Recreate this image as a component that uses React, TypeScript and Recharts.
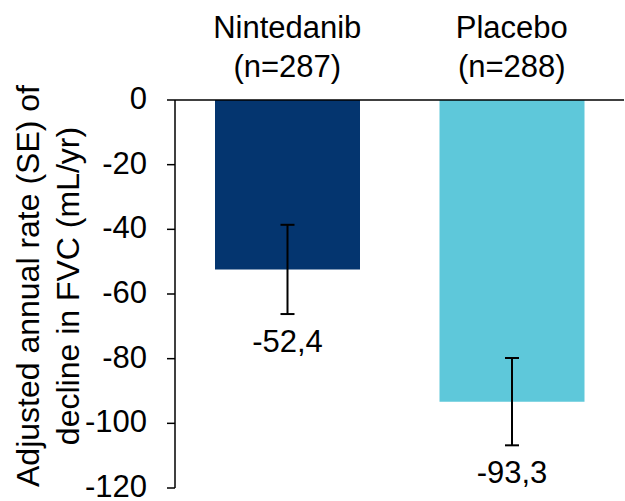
import React from 'react';
import { BarChart, Bar, XAxis, YAxis, ErrorBar, LabelList, Cell } from 'recharts';

const categories = ['Nintedanib', 'Placebo'];
const groupSizes = ['(n=287)', '(n=288)'];
const rates = [-52.4, -93.3];
const standardErrors = [13.8, 13.5];
const yTicks = [0, -20, -40, -60, -80, -100, -120];
const barColors = ['#04356F', '#5EC8DA'];

const data = categories.map((name, i) => ({
  name,
  n: groupSizes[i],
  rate: rates[i],
  se: standardErrors[i],
}));

const FONT = '"Liberation Sans", Arial, sans-serif';
const FS = 31;

const CategoryTick = (props: any) => {
  const { x, y, payload, index } = props;
  return (
    <g>
      <text x={x} y={y - 62} textAnchor="middle" fontSize={FS} fontFamily={FONT} fill="#000">
        {payload.value}
      </text>
      <text x={x} y={y - 23} textAnchor="middle" fontSize={FS} fontFamily={FONT} fill="#000">
        {groupSizes[index] ?? data.find((d) => d.name === payload.value)?.n}
      </text>
    </g>
  );
};

const YTick = (props: any) => {
  const { x, y, payload } = props;
  return (
    <text x={x} y={y + 9} textAnchor="end" fontSize={FS} fontFamily={FONT} fill="#000">
      {payload.value}
    </text>
  );
};

const ValueLabel = (props: any) => {
  const { x, y, width, height, value, index } = props;
  const bottom = Math.max(y, y + height);
  const pxPerUnit = Math.abs(height) / Math.abs(value);
  const errBottom = bottom + standardErrors[index] * pxPerUnit;
  return (
    <text
      x={x + width / 2}
      y={errBottom + 27}
      textAnchor="middle"
      dominantBaseline="central"
      fontSize={FS}
      fontFamily={FONT}
      fill="#000"
    >
      {Number(value).toFixed(1).replace('.', ',')}
    </text>
  );
};

const YTitle = (props: any) => {
  const { viewBox } = props;
  const cy = viewBox.y + viewBox.height / 2 - 8;
  return (
    <text
      transform={`translate(${viewBox.x + 28}, ${cy}) rotate(-90)`}
      textAnchor="middle"
      fontSize={32}
      fontFamily={FONT}
      fill="#000"
    >
      <tspan x={0} dy={11}>Adjusted annual rate (SE) of</tspan>
      <tspan x={0} dy={40}>decline in FVC (mL/yr)</tspan>
    </text>
  );
};

export default function App() {
  return (
    <div style={{ position: 'absolute', left: 0, top: 0, background: '#fff' }}>
      <BarChart
        width={625}
        height={501}
        data={data}
        margin={{ top: 0, right: 1, bottom: 13, left: 0 }}
      >
        <XAxis
          dataKey="name"
          orientation="top"
          height={100}
          axisLine={{ stroke: '#000', strokeWidth: 1.5 }}
          tickLine={false}
          tickSize={0}
          tickMargin={0}
          tick={<CategoryTick />}
          interval={0}
        />
        <XAxis
          xAxisId="bounds"
          type="number"
          domain={[0, 2]}
          ticks={[1, 2]}
          orientation="top"
          mirror
          axisLine={false}
          tick={false}
          tickLine={{ stroke: '#000', strokeWidth: 1.5 }}
          tickSize={9}
          allowDataOverflow
        />
        <YAxis
          type="number"
          domain={[-120, 0]}
          ticks={yTicks}
          interval={0}
          width={175}
          axisLine={{ stroke: '#000', strokeWidth: 1.5 }}
          tickLine={{ stroke: '#000', strokeWidth: 1.5 }}
          tickSize={8}
          tickMargin={20}
          tick={<YTick />}
          label={{ content: <YTitle /> }}
        />
        <Bar dataKey="rate" barSize={145} isAnimationActive={false}>
          {data.map((d, i) => (
            <Cell key={d.name} fill={barColors[i]} />
          ))}
          <ErrorBar dataKey="se" width={7} stroke="#000" strokeWidth={2} direction="y" />
          <LabelList dataKey="rate" content={<ValueLabel />} />
        </Bar>
      </BarChart>
    </div>
  );
}
